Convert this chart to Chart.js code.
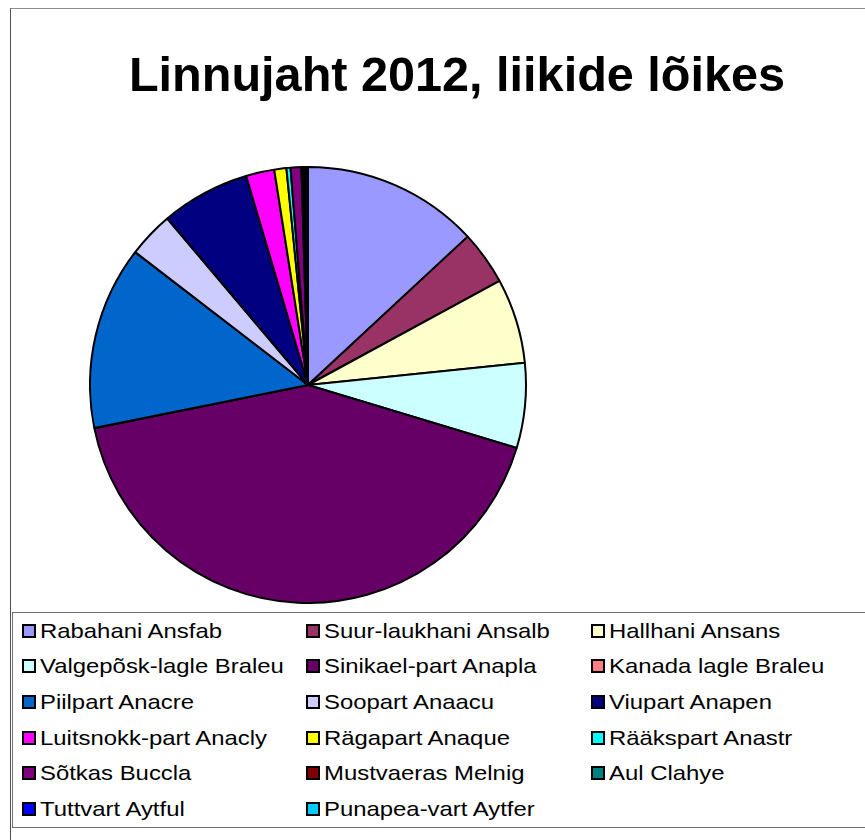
<!DOCTYPE html>
<html>
<head>
<meta charset="utf-8">
<script src="https://cdn.jsdelivr.net/npm/chart.js@4.4.0/dist/chart.umd.min.js"></script>
<style>
    body { margin: 0; background: #fff; font-family: "Liberation Sans", Arial, sans-serif; }
    #frame {
        position: absolute; left: 10px; top: 8px; width: 900px; height: 900px;
        border-top: 1px solid #909090; border-left: 1px solid #505050;
    }
    #title {
        position: absolute; left: 0; top: 37px; width: 892px; text-align: center;
        font-size: 48.6px; font-weight: bold; line-height: 56px; color: #000; white-space: nowrap;
    }
    #pieBox { position: absolute; left: 89px; top: 166px; width: 438px; height: 438px; }
    #legend {
        position: absolute; left: 12px; top: 612px; width: 848px; height: 214px;
        border: 1px solid #707070; background: #fff;
        display: grid; grid-template-columns: 284px 285px 270px;
        grid-auto-rows: 35.66px; padding-left: 9px; box-sizing: content-box;
    }
    .item { display: flex; align-items: center; white-space: nowrap; }
    .mark { width: 14px; height: 14px; border: 2px solid #000; box-sizing: border-box; flex: none; }
    .lbl {
        display: inline-block; margin-left: 4px; font-size: 20.6px; color: #000;
        transform: scaleX(1.16); transform-origin: left center;
    }
</style>
</head>
<body>
<div id="frame"><div id="title">Linnujaht 2012, liikide lõikes</div></div>
<div id="pieBox"><canvas id="pieChart"></canvas></div>
<div id="legend"></div>
<script>
    // liigid (kellaosuti suunas, alates kella 12-st)
    const species = [
        "Rabahani Ansfab", "Suur-laukhani Ansalb", "Hallhani Ansans",
        "Valgepõsk-lagle Braleu", "Sinikael-part Anapla", "Kanada lagle Braleu",
        "Piilpart Anacre", "Soopart Anaacu", "Viupart Anapen",
        "Luitsnokk-part Anacly", "Rägapart Anaque", "Rääkspart Anastr",
        "Sõtkas Buccla", "Mustvaeras Melnig", "Aul Clahye",
        "Tuttvart Aytful", "Punapea-vart Aytfer"
    ];

    // osakaal, % (loetud pildilt)
    const shares = [13.1, 4.0, 6.3, 6.3, 42.2, 0.02, 13.6, 3.4, 6.6, 2.1, 0.9, 0.3, 0.8, 0.12, 0.12, 0.12, 0.12];

    const sliceColors = [
        "#9999FF", "#993366", "#FFFFCC", "#CCFFFF", "#660066", "#FF8080",
        "#0066CC", "#CCCCFF", "#000080", "#FF00FF", "#FFFF00", "#00FFFF",
        "#800080", "#800000", "#008080", "#0000FF", "#00CCFF"
    ];

    const ctx = document.getElementById('pieChart').getContext('2d');
    window.pieChart = new Chart(ctx, {
        type: 'pie',
        data: {
            labels: species,
            datasets: [{
                data: shares,
                backgroundColor: sliceColors,
                borderColor: '#000',
                borderWidth: 2,
                hoverBorderWidth: 2
            }]
        },
        options: {
            responsive: true,
            maintainAspectRatio: false,
            animation: false,
            layout: { padding: 0 },
            plugins: {
                legend: { display: false },
                title: { display: false },
                tooltip: { enabled: false }
            }
        }
    });

    // legend eraldi kasti, 3 veergu
    const legendEl = document.getElementById('legend');
    species.forEach((name, i) => {
        const item = document.createElement('div');
        item.className = 'item';
        const mark = document.createElement('span');
        mark.className = 'mark';
        mark.style.background = sliceColors[i];
        const lbl = document.createElement('span');
        lbl.className = 'lbl';
        lbl.textContent = name;
        item.appendChild(mark);
        item.appendChild(lbl);
        legendEl.appendChild(item);
    });
</script>
</body>
</html>
